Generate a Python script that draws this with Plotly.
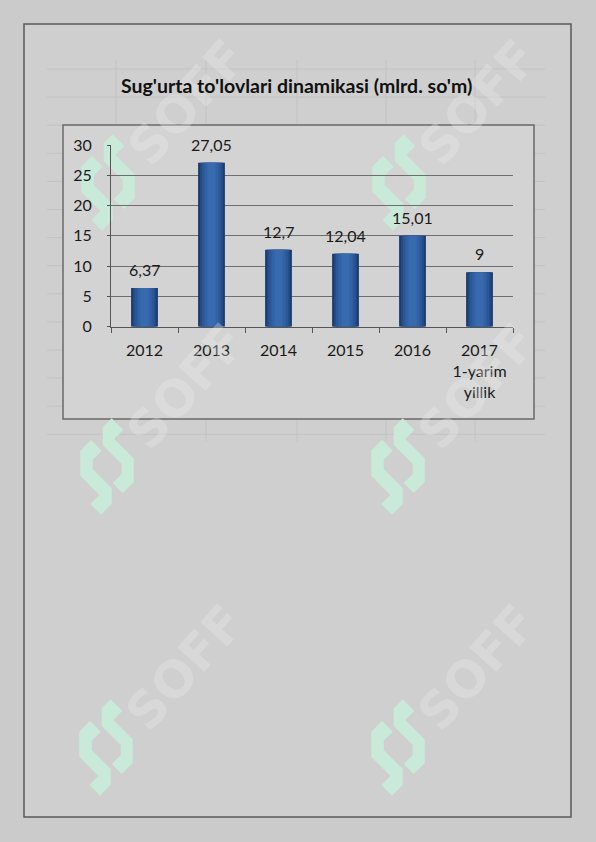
import plotly.graph_objects as go

# ---- data ----
categories = ["2012", "2013", "2014", "2015", "2016", "2017<br>1-yarim<br>yillik"]
values = [6.37, 27.05, 12.7, 12.04, 15.01, 9]
value_labels = [f"{v:g}".replace(".", ",") for v in values]
y_ticks = [0, 5, 10, 15, 20, 25, 30]
title_text = "Sug'urta to'lovlari dinamikasi (mlrd. so'm)"

W, H = 596, 842


def X(px):
    return px / W


def Y(py):
    return 1 - py / H


FONT = "Lato"
TXT = "#1a1a1a"

fig = go.Figure()

# layered bars for a cylinder-like horizontal gradient
layers = [(0.40, "#1b3a69"), (0.35, "#234a84"), (0.29, "#2b5797"),
          (0.21, "#3262a6"), (0.12, "#386aaf")]
for w, c in layers:
    fig.add_trace(go.Bar(x=categories, y=values, width=w,
                         marker=dict(color=c, line=dict(width=0)),
                         hoverinfo="skip", showlegend=False))

shapes = []
# page background & border
shapes.append(dict(type="rect", xref="paper", yref="paper",
                   x0=X(24), x1=X(571), y0=Y(817), y1=Y(24),
                   fillcolor="#cfcfcf", line=dict(color="#5a5a5a", width=1.5),
                   layer="below"))
# faint spreadsheet cell lines
rows = [69 + 28.1 * i for i in range(14)]
for r in rows:
    shapes.append(dict(type="line", xref="paper", yref="paper",
                       x0=X(47), x1=X(545), y0=Y(r), y1=Y(r),
                       line=dict(color="#c2c2c2", width=1), layer="below"))
for c in [116, 206, 297, 386, 475]:
    shapes.append(dict(type="line", xref="paper", yref="paper",
                       x0=X(c), x1=X(c), y0=Y(60), y1=Y(441),
                       line=dict(color="#c2c2c2", width=1), layer="below"))
# chart box
shapes.append(dict(type="rect", xref="paper", yref="paper",
                   x0=X(63), x1=X(534), y0=Y(419), y1=Y(125),
                   fillcolor="#d3d3d3", line=dict(color="#6a6a6a", width=1.5),
                   layer="below"))

# watermark logos (decorative)
right_piece = [(5.7, -48.7), (17.3, -37), (8.3, -28), (27.7, -8.7), (27.7, 15.3),
               (16.7, 26), (6.7, 16), (15.7, 7), (15.7, -3), (-3.3, -22), (-3.3, -39.7)]
left_piece = [(-15, -27.3), (-4.3, -16.3), (-13.3, -7.3), (-13.3, 2), (5.7, 21),
              (5.7, 37), (-5, 47.7), (-15.7, 37), (-6.7, 28), (-25.7, 8.7), (-25.7, -16.3)]
logo_centers = [(107, 183), (398, 183), (106, 467), (397, 467), (105, 748), (397, 748)]


def poly_path(pts, cx, cy):
    s = "M " + " L ".join(f"{X(cx + dx):.5f},{Y(cy + dy):.5f}" for dx, dy in pts)
    return s + " Z"


annotations = []
for cx, cy in logo_centers:
    for piece in (right_piece, left_piece):
        shapes.append(dict(type="path", xref="paper", yref="paper",
                           path=poly_path(piece, cx, cy),
                           fillcolor="#c9ead9", line=dict(width=0),
                           layer="below"))
    annotations.append(dict(xref="paper", yref="paper", x=X(cx + 80), y=Y(cy - 80),
                            xanchor="center", yanchor="middle",
                            text="<b>SOFF</b>", showarrow=False, textangle=-48,
                            font=dict(family="DejaVu Sans", size=50,
                                      color="rgba(235,235,235,0.32)")))

# data labels (x given as category index)
for i, (v, lab) in enumerate(zip(values, value_labels)):
    annotations.append(dict(x=i, y=v, xref="x", yref="y", text=lab,
                            showarrow=False, yanchor="bottom", yshift=7,
                            font=dict(family=FONT, size=16, color=TXT)))

# title
annotations.append(dict(xref="paper", yref="paper", x=X(296), y=Y(85),
                        text=f"<b>{title_text}</b>", showarrow=False,
                        xanchor="center", yanchor="middle",
                        font=dict(family=FONT, size=19.5, color="#111111")))

fig.update_layout(
    width=W, height=H,
    margin=dict(l=0, r=0, t=0, b=0, autoexpand=False),
    paper_bgcolor="#cbcbcb",
    plot_bgcolor="rgba(0,0,0,0)",
    barmode="overlay",
    showlegend=False,
    shapes=shapes,
    annotations=annotations,
    xaxis=dict(domain=[X(111), X(513)], type="category",
               range=[-0.5, len(categories) - 0.5], autorange=False,
               showgrid=False, showline=True, linecolor="#555555", linewidth=1,
               ticks="outside", tickson="boundaries", ticklen=5, tickcolor="#555555",
               tickangle=0,
               tickfont=dict(family=FONT, size=16, color=TXT),
               ticklabelstandoff=9, fixedrange=True),
    yaxis=dict(domain=[Y(326.7), Y(145)], range=[0, 30], autorange=False,
               tickvals=y_ticks, ticktext=[str(t) for t in y_ticks],
               showgrid=True, gridcolor="#6e6e6e", gridwidth=1,
               zeroline=False,
               showline=True, linecolor="#555555", linewidth=1,
               ticks="outside", ticklen=3, tickcolor="#555555",
               tickfont=dict(family=FONT, size=16, color=TXT),
               ticklabelstandoff=12, fixedrange=True),
)

fig.write_html("out.html", config={"displayModeBar": False},
               post_script="document.body.style.margin='0px';")
